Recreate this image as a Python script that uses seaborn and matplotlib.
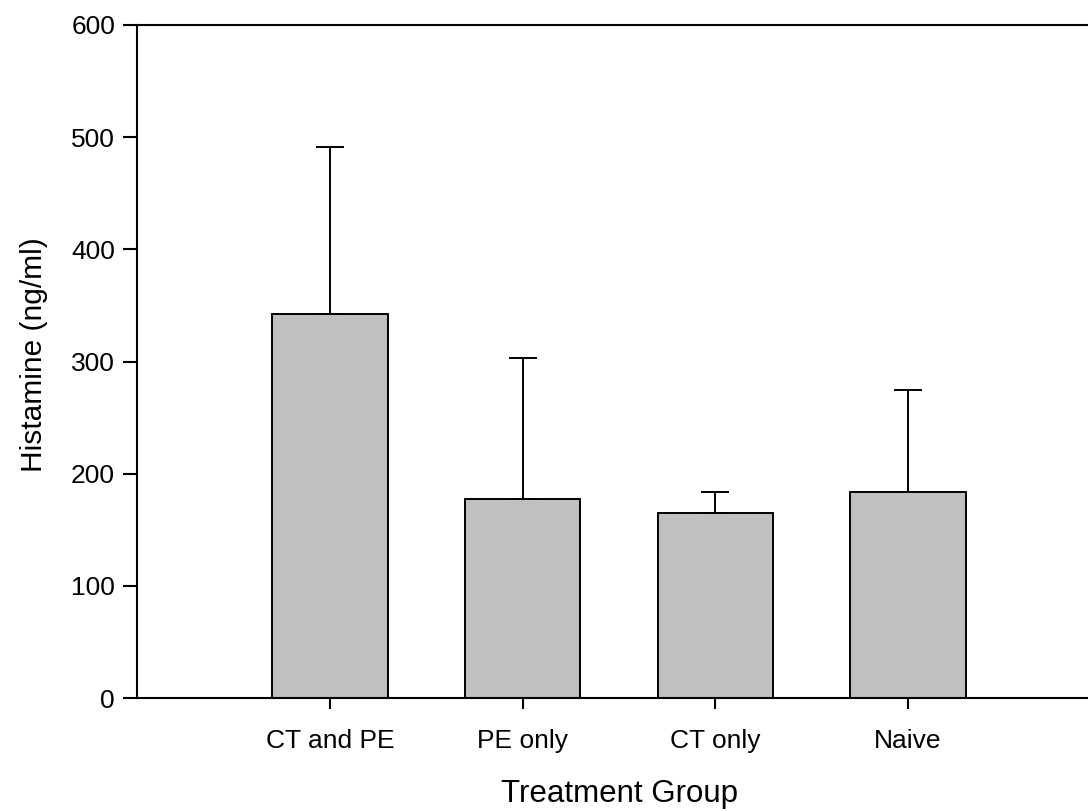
import numpy as np
import pandas as pd
import matplotlib
matplotlib.use("Agg")
import matplotlib.pyplot as plt
import seaborn as sns

groups = ["CT and PE", "PE only", "CT only", "Naive"]
histamine = [342, 177, 165, 184]
err_upper = [149, 126, 19, 91]

sns.set_style("ticks")
plt.rcParams["font.family"] = ["Liberation Sans", "DejaVu Sans"]
plt.rcParams["text.color"] = "black"
plt.rcParams["axes.labelcolor"] = "black"
plt.rcParams["xtick.color"] = "black"
plt.rcParams["ytick.color"] = "black"

df = pd.DataFrame({"group": groups, "histamine": histamine})

fig = plt.figure(figsize=(10.88, 8.11), dpi=100)
ax = fig.add_axes([0.1262, 0.1393, 0.8855, 0.8299])

sns.barplot(data=df, x="group", y="histamine", color="#c0c0c0", saturation=1,
            width=0.6, edgecolor="black", linewidth=1.4, errorbar=None, ax=ax)

xs = np.arange(len(groups))
ax.errorbar(xs, histamine, yerr=[np.zeros(len(groups)), err_upper], fmt="none",
            ecolor="black", elinewidth=1.4, capsize=10, capthick=1.4)

ax.set_xlim(-1, 4)
ax.set_ylim(0, 600)
ax.set_yticks(range(0, 601, 100))

for side in ["left", "top", "bottom", "right"]:
    ax.spines[side].set_linewidth(1.5)
    ax.spines[side].set_color("black")
ax.spines["right"].set_visible(False)

ax.tick_params(axis="y", direction="out", length=10, width=1.5, pad=6, labelsize=19)
ax.tick_params(axis="x", direction="out", length=8, width=1.5, pad=14, labelsize=19)

ax.set_xlabel("Treatment Group", fontsize=22.5, labelpad=19)
ax.set_ylabel("Histamine (ng/ml)", fontsize=21.5)
ax.yaxis.set_label_coords(-0.093, 0.51)

plt.savefig("out.png", dpi=100)
